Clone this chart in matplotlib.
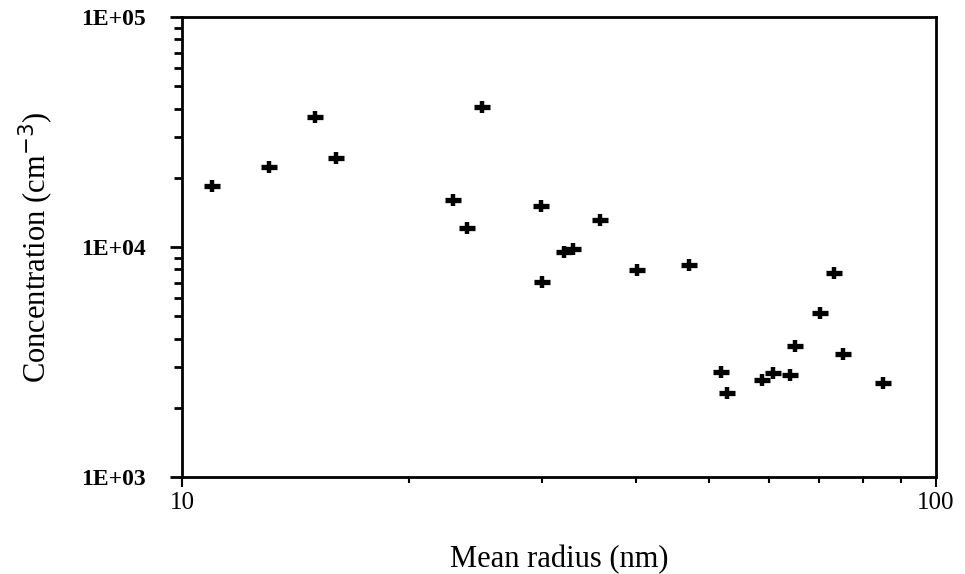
import numpy as np
import matplotlib
matplotlib.use('Agg')
import matplotlib.pyplot as plt
from matplotlib.ticker import LogLocator, NullFormatter, FixedLocator, FixedFormatter

# mean radius (nm) and number concentration (cm-3)
radius = [10.96, 13.04, 15.0, 16.0, 22.9, 23.9, 25.0, 29.9, 30.0, 32.1, 33.0, 35.8,
          40.1, 47.0, 51.9, 52.8, 58.8, 60.8, 64.0, 65.0, 70.2, 73.2, 75.3, 85.1]
conc = [18400, 22300, 36700, 24400, 16000, 12100, 40600, 15100, 7050, 9500, 9800, 13100,
        7940, 8350, 2870, 2320, 2640, 2830, 2780, 3720, 5160, 7710, 3430, 2570]

y_ticks = [1e3, 1e4, 1e5]
y_labels = ['1E+03', '1E+04', '1E+05']
x_ticks = [10, 100]
x_labels = ['10', '100']

plt.rcParams['font.family'] = ['Liberation Serif', 'DejaVu Serif']

fig = plt.figure(figsize=(9.65, 5.74), dpi=100)
ax = fig.add_axes([0.1886, 0.169, 0.7813, 0.8014])

# plus-shaped symbols: wide horizontal arm, shorter vertical one
ax.plot(radius, conc, ls='none', marker='_', ms=12, mew=3.8, color='k')
ax.plot(radius, conc, ls='none', marker='|', ms=9, mew=3.2, color='k')

ax.set_xscale('log')
ax.set_yscale('log')
ax.set_xlim(10, 100)
ax.set_ylim(1e3, 1e5)

ax.yaxis.set_major_locator(FixedLocator(y_ticks))
ax.yaxis.set_major_formatter(FixedFormatter(y_labels))
ax.yaxis.set_minor_locator(LogLocator(base=10, subs=np.arange(2, 10)))
ax.yaxis.set_minor_formatter(NullFormatter())
ax.xaxis.set_major_locator(FixedLocator(x_ticks))
ax.xaxis.set_major_formatter(FixedFormatter(x_labels))
ax.xaxis.set_minor_locator(LogLocator(base=10, subs=np.arange(2, 10)))
ax.xaxis.set_minor_formatter(NullFormatter())

ax.tick_params(axis='y', which='major', direction='out', length=9, width=2, pad=17,
               labelsize=17)
ax.tick_params(axis='y', which='minor', direction='out', length=6, width=2)
ax.tick_params(axis='x', which='major', direction='out', length=7, width=1.5, pad=4,
               labelsize=18)
ax.tick_params(axis='x', which='minor', direction='out', length=4, width=1.5)
for lab in ax.get_yticklabels():
    lab.set_fontweight('bold')

for side in ['left', 'right', 'top', 'bottom']:
    ax.spines[side].set_linewidth(2)
    ax.spines[side].set_color('k')

ax.set_xlabel('Mean radius (nm)', fontsize=22, labelpad=22)
ax.set_ylabel('Concentration (cm$^{-3}$)', fontsize=22, labelpad=18)

fig.savefig('out.png', dpi=100)
